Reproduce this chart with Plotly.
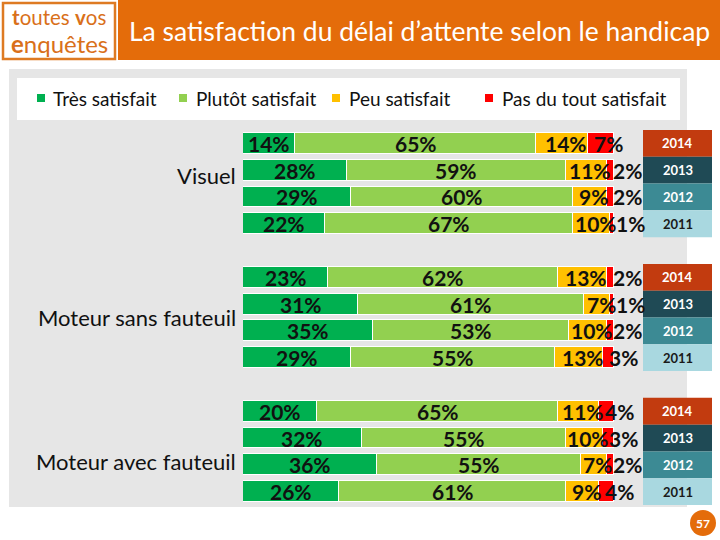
import plotly.graph_objects as go

# ---------------- data ----------------
groups = ["Visuel", "Moteur sans fauteuil", "Moteur avec fauteuil"]
years = ["2014", "2013", "2012", "2011"]
series = ["Très satisfait", "Plutôt satisfait", "Peu satisfait", "Pas du tout satisfait"]

tres_satisfait = [14, 28, 29, 22, 23, 31, 35, 29, 20, 32, 36, 26]
plutot_satisfait = [65, 59, 60, 67, 62, 61, 53, 55, 65, 55, 55, 61]
peu_satisfait = [14, 11, 9, 10, 13, 7, 10, 13, 11, 10, 7, 9]
pas_du_tout = [7, 2, 2, 1, 2, 1, 2, 3, 4, 3, 2, 4]

# ---------------- styles ----------------
colors = ["#00B050", "#92D050", "#FFC000", "#FF0000"]
year_bg = {"2014": "#C23B0F", "2013": "#1F4A55", "2012": "#3C8A94", "2011": "#A9D8E0"}
year_fg = {"2014": "white", "2013": "white", "2012": "white", "2011": "#1a1a1a"}
ORANGE = "#E46C0A"
PANEL = "#E6E6E6"
FONT = "Lato"

W, H = 720, 540
L, R, T, B = 243, 106, 130, 35
PW, PH = W - L - R, H - T - B


def PX(px):
    return (px - L) / PW


def PY(py):
    return (H - B - py) / PH


# row positions: one blank row between groups
rows = []
row_year = []
for gi, g in enumerate(groups):
    for yi, yr in enumerate(years):
        rows.append(gi * 5 + yi)
        row_year.append(yr)

values = [tres_satisfait, plutot_satisfait, peu_satisfait, pas_du_tout]

fig = go.Figure()
for s, vals, c in zip(series, values, colors):
    fig.add_trace(go.Bar(
        y=rows, x=vals, orientation="h", name=s,
        marker=dict(color=c, line=dict(color="white", width=1)),
        width=0.78, showlegend=False, hoverinfo="skip",
    ))

annotations = []
shapes = []
LBL = dict(family=FONT, size=21, color="#111")

# data labels
for i, r in enumerate(rows):
    start = 0
    for si, vals in enumerate(values):
        v = vals[i]
        if si < 2:
            annotations.append(dict(x=start + v / 2, y=r, xref="x", yref="y", text=f"<b>{v}%</b>",
                                    showarrow=False, xanchor="center", yanchor="middle", font=LBL))
        elif si == 2:
            annotations.append(dict(x=start + v / 2, y=r, xref="x", yref="y", text=f"<b>{v}%</b>",
                                    showarrow=False, xanchor="center", yanchor="middle", xshift=4, font=LBL))
        else:
            annotations.append(dict(x=start, y=r, xref="x", yref="y", text=f"<b>{v}%</b>",
                                    showarrow=False, xanchor="left", yanchor="middle", xshift=4, font=LBL))
        start += v

# year boxes
for r, yr in zip(rows, row_year):
    shapes.append(dict(type="rect", xref="paper", yref="y", x0=PX(643), x1=PX(712),
                       y0=r - 0.5, y1=r + 0.5, fillcolor=year_bg[yr], line=dict(width=0), layer="above"))
    annotations.append(dict(x=PX(677.5), y=r, xref="paper", yref="y", text=f"<b>{yr}</b>", showarrow=False,
                            xanchor="center", yanchor="middle",
                            font=dict(family=FONT, size=13, color=year_fg[yr])))

# group labels
group_shift = [8, 0, -10]
for gi, g in enumerate(groups):
    annotations.append(dict(x=PX(238), y=gi * 5 + 1.5, xref="paper", yref="y", text=g, showarrow=False,
                            xanchor="right", yanchor="middle", yshift=group_shift[gi],
                            font=dict(family=FONT, size=22, color="#111")))

# gray panel
shapes.append(dict(type="rect", xref="paper", yref="paper", x0=PX(9), x1=PX(687), y0=PY(507), y1=PY(69),
                   fillcolor=PANEL, line=dict(width=0), layer="below"))
# legend box
shapes.append(dict(type="rect", xref="paper", yref="paper", x0=PX(17), x1=PX(680), y0=PY(120), y1=PY(78),
                   fillcolor="white", line=dict(width=0), layer="below"))
leg_sq = [37, 179, 332, 485]
leg_tx = [51, 194, 347, 500]
for s, c, sx, tx in zip(series, colors, leg_sq, leg_tx):
    shapes.append(dict(type="rect", xref="paper", yref="paper", x0=PX(sx), x1=PX(sx + 8),
                       y0=PY(102), y1=PY(94), fillcolor=c, line=dict(width=0)))
    annotations.append(dict(x=PX(tx), y=PY(98), xref="paper", yref="paper", text=s, showarrow=False,
                            xanchor="left", yanchor="middle", font=dict(family=FONT, size=19, color="#111")))

# header bar + title
shapes.append(dict(type="rect", xref="paper", yref="paper", x0=PX(118), x1=PX(722), y0=PY(60), y1=PY(-2),
                   fillcolor=ORANGE, line=dict(width=0)))
annotations.append(dict(x=PX(419), y=PY(31), xref="paper", yref="paper",
                        text="La satisfaction du délai d’attente selon le handicap", showarrow=False,
                        xanchor="center", yanchor="middle", font=dict(family=FONT, size=26.5, color="white")))

# logo
shapes.append(dict(type="rect", xref="paper", yref="paper", x0=PX(3), x1=PX(115), y0=PY(59), y1=PY(3),
                   fillcolor="white", line=dict(color="#DE7A22", width=2.5)))
annotations.append(dict(x=PX(59), y=PY(17), xref="paper", yref="paper",
                        text="<b>t</b>outes <b>v</b>os", showarrow=False, xanchor="center", yanchor="middle",
                        font=dict(family=FONT, size=20.5, color="#D9701A")))
annotations.append(dict(x=PX(59), y=PY(43), xref="paper", yref="paper",
                        text="<b>e</b>nquêtes", showarrow=False, xanchor="center", yanchor="middle",
                        font=dict(family=FONT, size=24, color="#D9701A")))

# page number
shapes.append(dict(type="circle", xref="paper", yref="paper", x0=PX(690), x1=PX(716), y0=PY(536), y1=PY(510),
                   fillcolor=ORANGE, line=dict(width=0)))
annotations.append(dict(x=PX(703), y=PY(523), xref="paper", yref="paper", text="<b>57</b>", showarrow=False,
                        xanchor="center", yanchor="middle",
                        font=dict(family=FONT, size=12, color="white")))

fig.update_layout(
    width=W, height=H,
    margin=dict(l=L, r=R, t=T, b=B, autoexpand=False),
    barmode="stack", bargap=0,
    paper_bgcolor="white", plot_bgcolor="rgba(0,0,0,0)",
    xaxis=dict(range=[0, 100], visible=False, fixedrange=True),
    yaxis=dict(range=[13.5, -0.5], visible=False, fixedrange=True),
    shapes=shapes, annotations=annotations,
    showlegend=False,
)

fig.write_html("out.html", config={"displayModeBar": False},
               post_script="document.body.style.margin='0';document.body.style.overflow='hidden';")
